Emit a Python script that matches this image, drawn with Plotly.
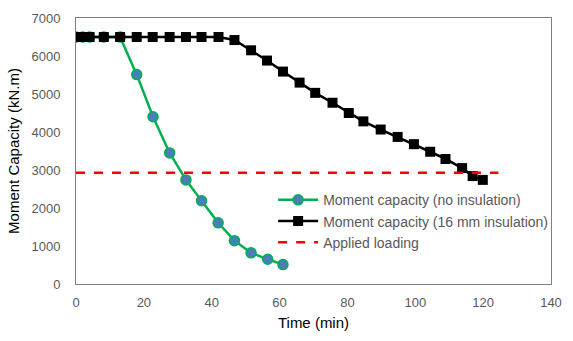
import plotly.graph_objects as go

t_noins = [0, 2, 4, 8.2, 13, 17.9, 22.7, 27.6, 32.4, 37.0, 41.9, 46.7, 51.6, 56.5, 61.0]
m_noins = [6500, 6500, 6500, 6500, 6500, 5510, 4400, 3450, 2740, 2190, 1610, 1140, 820, 650, 510]

t_ins = [0, 2, 4, 8.2, 13, 17.9, 22.6, 27.6, 32.4, 37.0, 42.0, 46.7, 51.6, 56.3, 61.0,
         65.9, 70.5, 75.6, 80.4, 84.7, 89.8, 94.8, 99.6, 104.4, 108.9, 113.8, 116.9, 119.9]
m_ins = [6500] * 11 + [6420, 6150, 5880, 5590, 5300, 5030, 4770, 4500, 4280, 4065, 3870,
                       3680, 3480, 3290, 3050, 2840, 2740]

t_load = [0, 124.5]
m_load = [2930, 2930]

x_ticks = [0, 20, 40, 60, 80, 100, 120, 140]
y_ticks = [0, 1000, 2000, 3000, 4000, 5000, 6000, 7000]

font_family = "Liberation Sans, Arial, sans-serif"
gray = "#595959"

fig = go.Figure()
fig.add_trace(go.Scatter(
    x=t_noins, y=m_noins, mode="lines+markers", name="Moment capacity (no insulation)",
    line=dict(color="#00B050", width=2.5),
    marker=dict(symbol="circle", size=10, color="#4A7EBB", line=dict(color="#00B050", width=1.5)),
))
fig.add_trace(go.Scatter(
    x=t_ins, y=m_ins, mode="lines+markers", name="Moment capacity (16 mm insulation)",
    line=dict(color="black", width=2.5),
    marker=dict(symbol="square", size=10, color="black"),
))
fig.add_trace(go.Scatter(
    x=t_load, y=m_load, mode="lines", name="Applied loading",
    line=dict(color="#FF0000", width=2.5, dash="dash"),
))

fig.update_layout(
    width=573, height=341,
    margin=dict(l=76, r=11, t=13, b=57),
    paper_bgcolor="white", plot_bgcolor="white",
    font=dict(family=font_family, size=13, color=gray),
    showlegend=True,
    legend=dict(x=0.415, y=0.375, xanchor="left", yanchor="top",
                bgcolor="rgba(0,0,0,0)", font=dict(size=14, color=gray),
                tracegroupgap=0, itemwidth=40),
    xaxis=dict(
        range=[0, 140], tickvals=x_ticks, showgrid=False, zeroline=False,
        showline=True, linecolor="#808080", linewidth=1, mirror=True,
        ticks="", tickfont=dict(size=13, color=gray), ticklabelstandoff=6,
        title=dict(text="Time (min)", font=dict(size=15, color="black"), standoff=8),
    ),
    yaxis=dict(
        range=[0, 7000], tickvals=y_ticks, showgrid=False, zeroline=False,
        showline=True, linecolor="#808080", linewidth=1, mirror=True,
        ticks="", tickfont=dict(size=13, color=gray), ticklabelstandoff=12,
        title=dict(text="Moment Capacity (kN.m)", font=dict(size=15, color="black"), standoff=8),
    ),
)

fig.write_html("out.html")
